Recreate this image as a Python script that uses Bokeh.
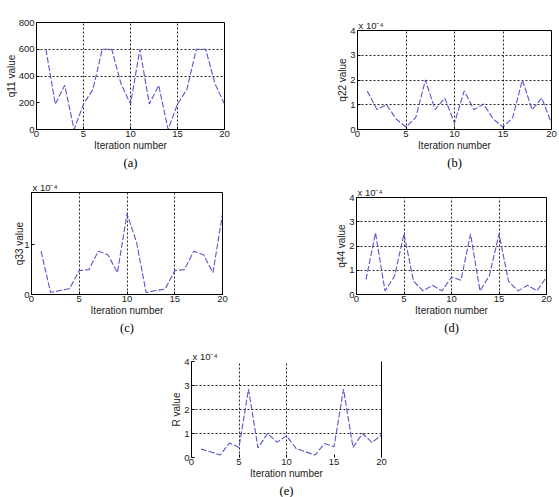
from bokeh.plotting import figure
from bokeh.layouts import column, row
from bokeh.models import LinearAxis, FixedTicker, Range1d, Title
from bokeh.embed import file_html
from bokeh.resources import INLINE

# Iteration index shared by all five panels
iterations = list(range(1, 21))
x_ticks = [0, 5, 10, 15, 20]

# Weight values per iteration
q11 = [600, 190, 330, 0, 190, 300, 600, 600, 340, 190,
       600, 190, 330, 0, 190, 300, 600, 600, 340, 190]
# the remaining series are in units of 1e-4
q22 = [1.56, 0.81, 1.00, 0.42, 0.10, 0.48, 2.00, 0.80, 1.27, 0.26,
       1.56, 0.80, 1.03, 0.42, 0.10, 0.48, 2.00, 0.80, 1.27, 0.24]
q33 = [0.87, 0.04, 0.08, 0.12, 0.48, 0.50, 0.87, 0.80, 0.44, 1.62,
       1.05, 0.04, 0.08, 0.11, 0.48, 0.50, 0.87, 0.80, 0.44, 1.62]
q44 = [0.61, 2.54, 0.15, 0.75, 2.50, 0.55, 0.15, 0.38, 0.15, 0.72,
       0.59, 2.50, 0.15, 0.79, 2.50, 0.55, 0.15, 0.38, 0.15, 0.72]
r_val = [0.35, 0.24, 0.10, 0.60, 0.42, 2.85, 0.40, 1.00, 0.64, 0.90,
         0.38, 0.24, 0.10, 0.58, 0.45, 2.85, 0.42, 1.00, 0.62, 0.95]

y_ticks_q11 = [0, 200, 400, 600, 800]
y_ticks_small = [0, 1, 2, 3, 4]
y_ticks_q33 = [0, 1]

SANS = "Liberation Sans"
SERIF = "Liberation Serif"
LINE_COLOR = "#4444c8"
TEXT_COLOR = "#222222"


def panel(series, ylabel, tag, w, h, left, right, top, bottom, ymax,
          yticks, ygrid, xgrid, exponent, tag_offset, ylabel_standoff=-1, boxed=True):
    p = figure(width=w, height=h, x_range=Range1d(0, 20), y_range=Range1d(0, ymax),
               output_backend="svg", toolbar_location=None, title=None,
               min_border_left=left, min_border_right=right,
               min_border_top=top, min_border_bottom=bottom)
    # each panel keeps its own frame position inside the rows
    p.frame_align = False
    p.background_fill_color = "white"
    p.border_fill_color = "white"
    if boxed:
        p.outline_line_color = "black"
        p.outline_line_width = 1
    else:
        p.outline_line_color = None

    p.line(iterations, series, line_color=LINE_COLOR, line_width=1.1,
           line_dash="6 2", line_alpha=0.9)

    for ax in (p.xaxis[0], p.yaxis[0]):
        ax.major_tick_in = 3
        ax.major_tick_out = 0
        ax.minor_tick_line_color = None
        ax.axis_line_color = "black"
        ax.major_tick_line_color = "black"
        ax.major_label_text_font = SANS
        ax.major_label_text_font_size = "9.5px"
        ax.major_label_text_color = TEXT_COLOR
        ax.axis_label_text_font = SANS
        ax.axis_label_text_font_size = "10px"
        ax.axis_label_text_font_style = "normal"
        ax.axis_label_text_color = TEXT_COLOR
        ax.major_label_standoff = 1
        ax.axis_label_standoff = 0
    p.yaxis[0].major_label_standoff = 2
    p.yaxis[0].axis_label_standoff = ylabel_standoff
    p.xaxis.ticker = FixedTicker(ticks=x_ticks)
    p.yaxis.ticker = FixedTicker(ticks=yticks)
    p.xaxis.axis_label = "Iteration number"
    p.yaxis.axis_label = ylabel
    if not boxed:
        p.xaxis.axis_line_color = None
        right_ax = LinearAxis(ticker=FixedTicker(ticks=[]), major_label_text_font_size="0px",
                              axis_line_color="black", major_tick_line_color=None,
                              minor_tick_line_color=None)
        p.add_layout(right_ax, "right")

    p.xgrid.ticker = FixedTicker(ticks=xgrid)
    p.ygrid.ticker = FixedTicker(ticks=ygrid)
    for g in (p.xgrid[0], p.ygrid[0]):
        g.grid_line_color = "black"
        g.grid_line_dash = "2 2"
        g.grid_line_alpha = 0.85
        g.grid_line_width = 1

    if exponent:
        p.add_layout(Title(text="x 10\u207b\u2074", align="left", offset=1, standoff=0,
                           text_font=SANS, text_font_size="9.5px", text_color=TEXT_COLOR,
                           text_font_style="normal"), "above")

    p.add_layout(Title(text=tag, align="center", offset=tag_offset, standoff=0,
                       text_font=SERIF, text_font_size="12.5px", text_color="black",
                       text_font_style="normal"), "below")
    return p


pa = panel(q11, "q11 value", "(a)", 279, 170, 36, 55, 22, 41, 800,
           y_ticks_q11, [400, 600], [5, 10, 15], False, -15)
pb = panel(q22, "q22 value", "(b)", 280, 170, 78, 8, 30, 41, 4,
           y_ticks_small, [1, 2, 3], [5, 10, 15], True, -10)
pc = panel(q33, "q33 value", "(c)", 279, 165, 31, 57, 22, 41, 2.05,
           y_ticks_q33, [], [5, 10, 15], True, -4, ylabel_standoff=-4)
pd = panel(q44, "q44 value", "(d)", 280, 165, 77, 13, 27, 41, 4,
           y_ticks_small, [1, 2, 3], [5, 10, 15], True, -8)
pe = panel(r_val, "R value", "(e)", 559, 162, 191, 178, 26, 38, 4,
           y_ticks_small, [1, 2, 3], [5, 10], True, -9, boxed=False)

layout = column(row(pa, pb), row(pc, pd), pe)

open("out.html", "w").write(file_html(layout, INLINE))
